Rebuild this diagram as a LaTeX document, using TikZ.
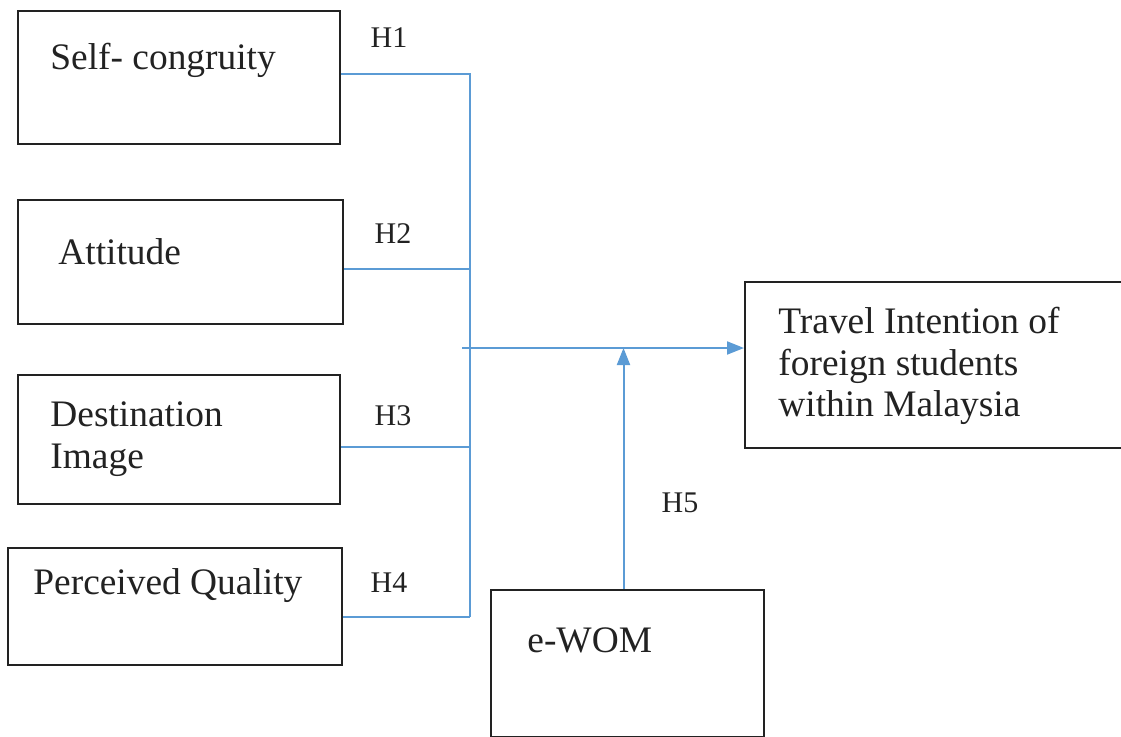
\documentclass[tikz,border=0pt]{standalone}
\usepackage{fontspec}
\setmainfont{Liberation Serif}
\usetikzlibrary{arrows.meta,fit}
\definecolor{linkB}{HTML}{5B9BD5}
\definecolor{boxK}{HTML}{222222}

\begin{document}
\begin{tikzpicture}[x=0.5pt,y=-0.5pt,
  box/.style={draw=boxK,line width=1pt,inner sep=0pt},
  txt/.style={anchor=west,inner sep=0pt,align=left,text=boxK,font=\fontsize{18.7}{20.8}\selectfont},
  hyp/.style={inner sep=0pt,text=boxK,font=\fontsize{15}{17}\selectfont},
  link/.style={draw=linkB,line width=1pt},
  >={Triangle[length=8.5pt,width=6.5pt]}]
\useasboundingbox (0,0) rectangle (1121,736);
% boxes
\node[box,fit={(18,11)(340,144)}] (sc) {};
\node[box,fit={(18,200)(343,324)}] (at) {};
\node[box,fit={(18,375)(340,504)}] (di) {};
\node[box,fit={(8,548)(342,665)}] (pq) {};
\node[box,fit={(491,590)(764,737)}] (ew) {};
\node[box,fit={(745,282)(1130,448)}] (ti) {};
\node[txt] at (50,60) {Self- congruity};
\node[txt] at (58,252) {Attitude};
\node[txt] at (50,439) {Destination\\Image};
\node[txt] at (33,586) {Perceived Quality};
\node[txt] at (527,640) {e-WOM};
\node[txt] at (778,366) {Travel Intention of\\foreign students\\within Malaysia};
% bus and links
\coordinate (j1) at (470,74);
\coordinate (j2) at (470,269);
\coordinate (j3) at (470,447);
\coordinate (j4) at (470,617);
\coordinate (hs) at (462,348);
\draw[link] (sc.east |- j1) -- (j1) -- (j4);
\draw[link] (at.east |- j2) -- (j2);
\draw[link] (di.east |- j3) -- (j3);
\draw[link] (pq.east |- j4) -- (j4);
\draw[link,->] (hs) -- (ti.west |- hs);
\draw[link,->] ([xshift=-2pt]ew.north) -- ([xshift=-2pt]ew.north |- hs);
\node[hyp] (h1) at (389,38) {H1};
\node[hyp] (h2) at (393,234) {H2};
\node[hyp] (h3) at (393,416) {H3};
\node[hyp] (h4) at (389,583) {H4};
\node[hyp] (h5) at (680,503) {H5};
\end{tikzpicture}
\end{document}
